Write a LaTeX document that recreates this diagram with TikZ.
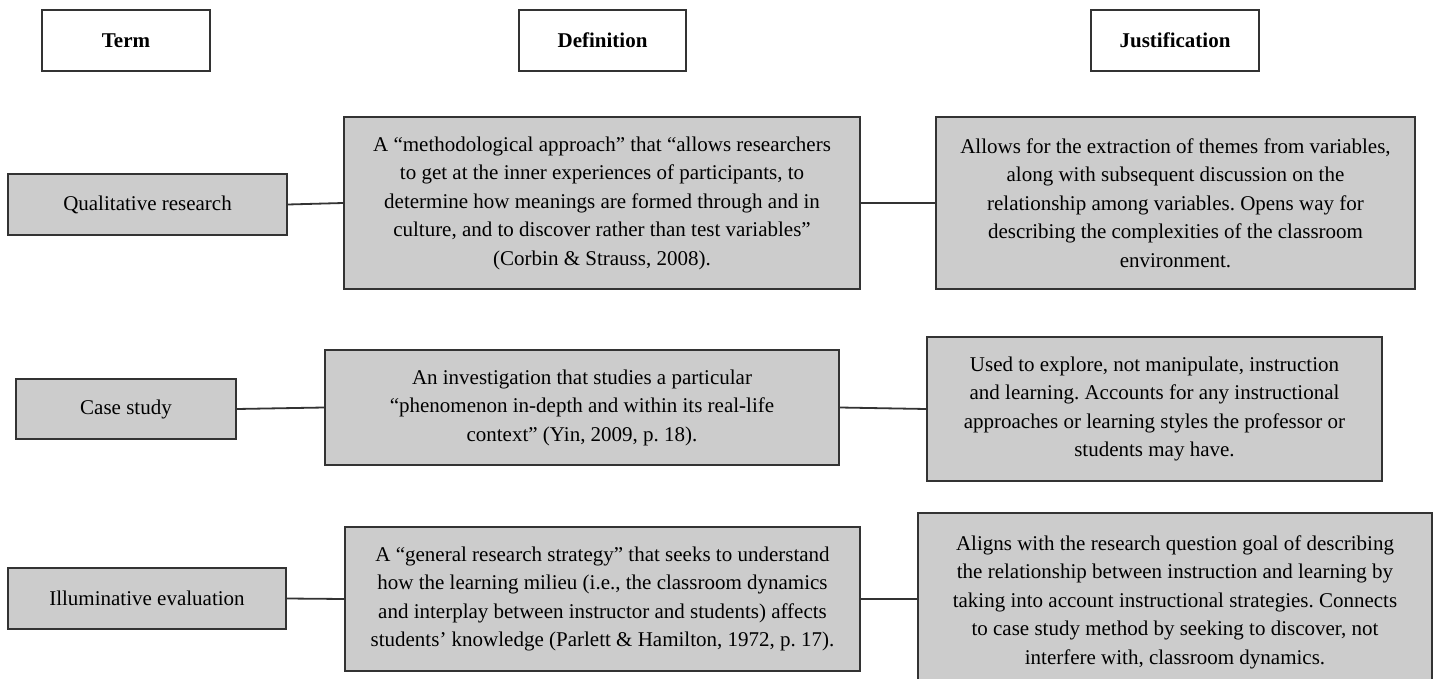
\documentclass[tikz,border=0pt]{standalone}
\usepackage{fontspec}
\setmainfont{Liberation Serif}
\definecolor{boxfill}{HTML}{CCCCCC}
\definecolor{bordc}{HTML}{333333}
\frenchspacing
\begin{document}
\begin{tikzpicture}[x=1pt,y=-1pt,
  box/.style={draw=bordc, line width=1.5pt, fill=boxfill, align=center, inner sep=0pt, font=\frenchspacing\fontsize{21}{28.5}\selectfont},
  head/.style={draw=bordc, line width=1.5pt, fill=white, align=center, inner sep=0pt, font=\bfseries\fontsize{21}{28.5}\selectfont},
  link/.style={draw=bordc, line width=1.8pt}]
\useasboundingbox (0,0) rectangle (1438,679);
\clip (0,0) rectangle (1438,679);
% headers
\node[head, minimum width=168pt, minimum height=61pt] (hT) at (126,40.5) {Term};
\node[head, minimum width=167pt, minimum height=61pt] (hD) at (602.5,40.5) {Definition};
\node[head, minimum width=168pt, minimum height=61pt] (hJ) at (1175,40.5) {Justification};
% row 1
\node[box, minimum width=279pt, minimum height=61pt] (t1) at (147.5,204.5) {Qualitative research};
\node[box, minimum width=516pt, minimum height=172pt] (d1) at (602,203) {A “methodological approach” that “allows researchers\\ to get at the inner experiences of participants, to\\ determine how meanings are formed through and in\\ culture, and to discover rather than test variables”\\ (Corbin \& Strauss, 2008).};
\node[box, minimum width=479pt, minimum height=172pt] (j1) at (1175.5,203) {Allows for the extraction of themes from variables,\\ along with subsequent discussion on the\\ relationship among variables. Opens way for\\ describing the complexities of the classroom\\ environment.};
% row 2
\node[box, minimum width=220pt, minimum height=60pt] (t2) at (126,409) {Case study};
\node[box, minimum width=514pt, minimum height=115pt] (d2) at (582,407.5) {An investigation that studies a particular\\ “phenomenon in-depth and within its real-life\\ context” (Yin, 2009, p. 18).};
\node[box, minimum width=455pt, minimum height=144pt] (j2) at (1154.5,409) {Used to explore, not manipulate, instruction\\ and learning. Accounts for any instructional\\ approaches or learning styles the professor or\\ students may have.};
% row 3
\node[box, minimum width=278pt, minimum height=61pt] (t3) at (147,598.5) {Illuminative evaluation};
\node[box, minimum width=515pt, minimum height=144pt] (d3) at (602.5,599) {A “general research strategy” that seeks to understand\\ how the learning milieu (i.e., the classroom dynamics\\ and interplay between instructor and students) affects\\ students’ knowledge (Parlett \& Hamilton, 1972, p. 17).};
\node[box, minimum width=514pt, minimum height=178pt] (j3) at (1175,602) {Aligns with the research question goal of describing\\ the relationship between instruction and learning by\\ taking into account instructional strategies. Connects\\ to case study method by seeking to discover, not\\ interfere with, classroom dynamics.};
% connectors
\draw[link] (t1.east) -- (d1.west);
\draw[link] (d1.east) -- (j1.west);
\draw[link] (t2.east) -- (d2.west);
\draw[link] (d2.east) -- (j2.west);
\draw[link] (t3.east) -- (d3.west);
\draw[link] (d3.east) -- (d3.east -| j3.west);
\end{tikzpicture}
\end{document}
